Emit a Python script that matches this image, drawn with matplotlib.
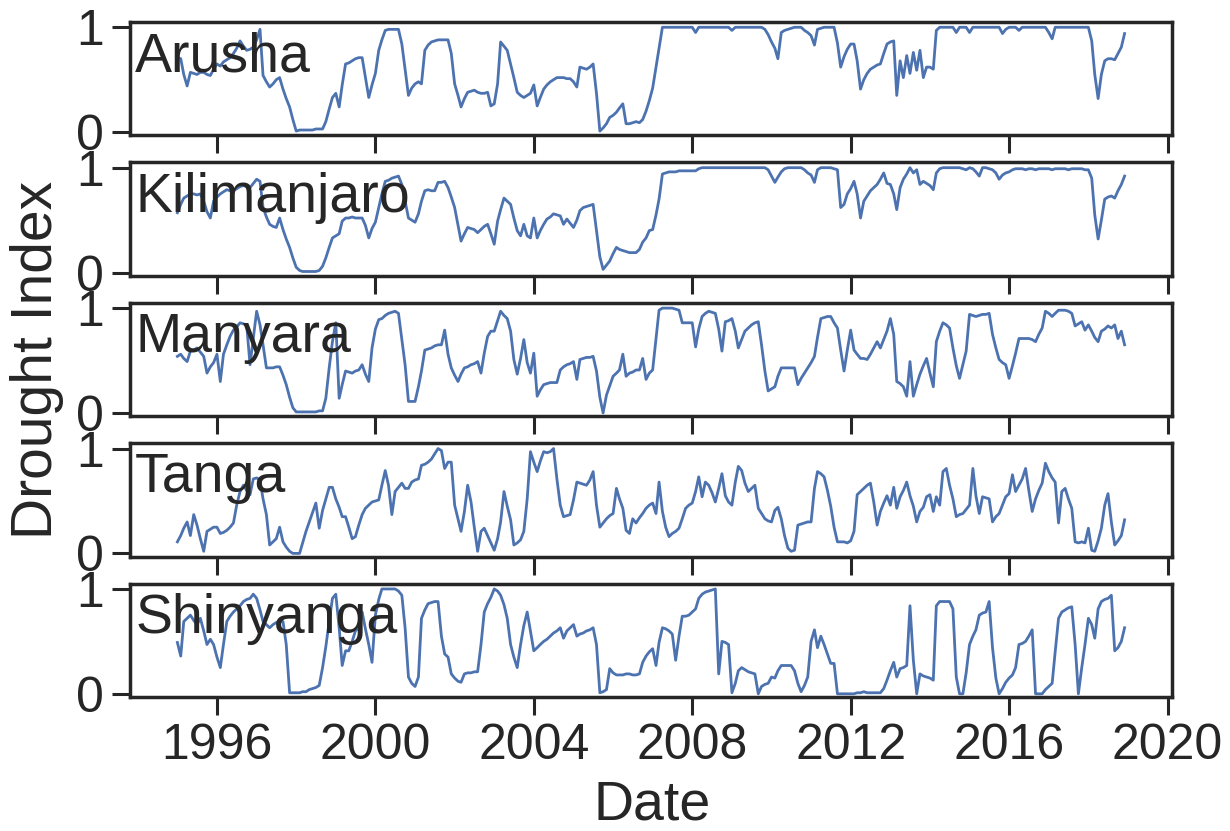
import pandas as pd
import matplotlib
matplotlib.use('Agg')
import matplotlib.pyplot as plt
import matplotlib.dates as mdates

plt.rcParams['font.family'] = ['Liberation Sans', 'DejaVu Sans']

# monthly values, Jan 1995 .. Dec 2018 (one row per year)
dates = pd.date_range('1995-01-01', '2018-12-01', freq='MS')
regions = ['Arusha', 'Kilimanjaro', 'Manyara', 'Tanga', 'Shinyanga']

arusha = [
    0.71, 0.70, 0.55, 0.44, 0.57, 0.56, 0.55, 0.57, 0.57, 0.55, 0.54, 0.60,
    0.65, 0.63, 0.67, 0.69, 0.71, 0.75, 0.80, 0.87, 0.82, 0.78, 0.79, 0.81,
    0.88, 0.98, 0.54, 0.48, 0.43, 0.46, 0.50, 0.52, 0.41, 0.32, 0.24, 0.12,
    0.01, 0.02, 0.02, 0.02, 0.02, 0.02, 0.03, 0.03, 0.03, 0.10, 0.22, 0.33,
    0.37, 0.24, 0.45, 0.65, 0.66, 0.68, 0.70, 0.71, 0.71, 0.52, 0.33, 0.45,
    0.56, 0.78, 0.88, 0.97, 0.98, 0.98, 0.98, 0.98, 0.84, 0.60, 0.35, 0.42,
    0.46, 0.48, 0.46, 0.78, 0.83, 0.86, 0.87, 0.88, 0.88, 0.88, 0.88, 0.75,
    0.46, 0.35, 0.24, 0.32, 0.38, 0.39, 0.40, 0.38, 0.37, 0.37, 0.38, 0.25,
    0.27, 0.46, 0.86, 0.82, 0.78, 0.65, 0.52, 0.38, 0.35, 0.33, 0.35, 0.37,
    0.45, 0.25, 0.33, 0.41, 0.45, 0.48, 0.50, 0.52, 0.52, 0.52, 0.51, 0.51,
    0.48, 0.43, 0.62, 0.61, 0.60, 0.62, 0.65, 0.37, 0.01, 0.04, 0.08, 0.14,
    0.16, 0.19, 0.23, 0.27, 0.08, 0.08, 0.09, 0.10, 0.09, 0.12, 0.20, 0.30,
    0.42, 0.62, 0.80, 1.00, 1.00, 1.00, 1.00, 1.00, 1.00, 1.00, 1.00, 1.00,
    1.00, 0.95, 1.00, 1.00, 1.00, 1.00, 1.00, 1.00, 1.00, 1.00, 1.00, 1.00,
    0.97, 1.00, 1.00, 1.00, 1.00, 1.00, 1.00, 1.00, 1.00, 1.00, 0.98, 0.93,
    0.86, 0.80, 0.70, 0.95, 0.97, 0.98, 0.99, 1.00, 1.00, 1.00, 0.97, 0.95,
    0.92, 0.83, 0.98, 0.99, 1.00, 1.00, 1.00, 1.00, 0.85, 0.62, 0.72, 0.79,
    0.84, 0.84, 0.68, 0.41, 0.50, 0.56, 0.60, 0.62, 0.64, 0.65, 0.75, 0.84,
    0.86, 0.87, 0.35, 0.68, 0.52, 0.73, 0.56, 0.76, 0.59, 0.78, 0.52, 0.62,
    0.62, 0.60, 0.97, 1.00, 1.00, 1.00, 1.00, 1.00, 0.95, 1.00, 1.00, 1.00,
    0.95, 1.00, 1.00, 1.00, 1.00, 1.00, 1.00, 1.00, 1.00, 1.00, 0.94, 0.98,
    1.00, 1.00, 1.00, 0.97, 1.00, 1.00, 1.00, 1.00, 1.00, 1.00, 1.00, 1.00,
    0.95, 0.89, 1.00, 1.00, 1.00, 1.00, 1.00, 1.00, 1.00, 1.00, 1.00, 1.00,
    1.00, 0.87, 0.55, 0.32, 0.55, 0.68, 0.70, 0.70, 0.69, 0.75, 0.81, 0.94,
]

kilimanjaro = [
    0.57, 0.65, 0.71, 0.73, 0.75, 0.75, 0.74, 0.75, 0.68, 0.58, 0.52, 0.68,
    0.72, 0.75, 0.77, 0.79, 0.78, 0.78, 0.80, 0.82, 0.83, 0.82, 0.81, 0.85,
    0.89, 0.87, 0.62, 0.53, 0.46, 0.44, 0.43, 0.52, 0.41, 0.32, 0.24, 0.14,
    0.05, 0.02, 0.01, 0.01, 0.01, 0.01, 0.01, 0.02, 0.06, 0.14, 0.24, 0.33,
    0.35, 0.37, 0.49, 0.52, 0.52, 0.53, 0.52, 0.52, 0.52, 0.45, 0.33, 0.42,
    0.48, 0.62, 0.75, 0.87, 0.88, 0.90, 0.91, 0.92, 0.84, 0.68, 0.52, 0.50,
    0.48, 0.56, 0.68, 0.78, 0.79, 0.78, 0.78, 0.86, 0.86, 0.87, 0.81, 0.72,
    0.62, 0.45, 0.30, 0.37, 0.43, 0.42, 0.41, 0.38, 0.41, 0.44, 0.46, 0.37,
    0.27, 0.49, 0.60, 0.71, 0.68, 0.65, 0.52, 0.40, 0.35, 0.46, 0.35, 0.33,
    0.52, 0.33, 0.40, 0.46, 0.51, 0.53, 0.56, 0.55, 0.54, 0.46, 0.51, 0.47,
    0.43, 0.50, 0.59, 0.62, 0.63, 0.64, 0.65, 0.40, 0.15, 0.03, 0.07, 0.11,
    0.18, 0.24, 0.22, 0.21, 0.20, 0.19, 0.19, 0.19, 0.22, 0.29, 0.33, 0.40,
    0.41, 0.55, 0.70, 0.94, 0.95, 0.96, 0.96, 0.96, 0.97, 0.97, 0.97, 0.97,
    0.97, 0.97, 0.99, 1.00, 1.00, 1.00, 1.00, 1.00, 1.00, 1.00, 1.00, 1.00,
    1.00, 1.00, 1.00, 1.00, 1.00, 1.00, 1.00, 1.00, 1.00, 1.00, 1.00, 0.98,
    0.92, 0.86, 0.91, 0.96, 0.99, 1.00, 1.00, 1.00, 1.00, 1.00, 0.98, 0.95,
    0.93, 0.86, 0.98, 1.00, 1.00, 1.00, 1.00, 0.99, 0.98, 0.62, 0.65, 0.75,
    0.80, 0.87, 0.75, 0.52, 0.68, 0.73, 0.78, 0.81, 0.84, 0.89, 0.95, 0.85,
    0.84, 0.75, 0.60, 0.81, 0.89, 0.94, 1.00, 0.95, 0.98, 0.84, 0.87, 0.85,
    0.83, 0.79, 0.95, 0.99, 1.00, 1.00, 1.00, 1.00, 1.00, 1.00, 0.99, 0.98,
    1.00, 0.99, 0.96, 0.92, 1.00, 1.00, 0.99, 0.98, 0.95, 0.89, 0.93, 0.95,
    0.96, 0.98, 0.99, 0.99, 0.99, 0.98, 0.99, 0.99, 0.98, 0.99, 0.99, 0.99,
    0.99, 0.98, 0.99, 0.99, 0.99, 0.99, 0.98, 0.99, 0.99, 0.99, 0.99, 0.98,
    0.98, 0.90, 0.55, 0.32, 0.50, 0.70, 0.72, 0.73, 0.71, 0.78, 0.84, 0.92,
]

manyara = [
    0.54, 0.56, 0.52, 0.49, 0.59, 0.60, 0.62, 0.58, 0.54, 0.38, 0.44, 0.48,
    0.56, 0.30, 0.56, 0.65, 0.73, 0.79, 0.82, 0.86, 0.85, 0.84, 0.46, 0.71,
    0.97, 0.84, 0.65, 0.43, 0.43, 0.43, 0.44, 0.44, 0.36, 0.27, 0.15, 0.05,
    0.01, 0.01, 0.01, 0.01, 0.01, 0.01, 0.01, 0.02, 0.02, 0.14, 0.43, 0.68,
    0.86, 0.14, 0.27, 0.40, 0.39, 0.38, 0.40, 0.41, 0.46, 0.37, 0.30, 0.62,
    0.80, 0.89, 0.90, 0.93, 0.95, 0.96, 0.97, 0.95, 0.70, 0.46, 0.11, 0.11,
    0.11, 0.25, 0.40, 0.60, 0.61, 0.62, 0.64, 0.65, 0.65, 0.79, 0.56, 0.43,
    0.36, 0.30, 0.37, 0.43, 0.44, 0.46, 0.47, 0.49, 0.38, 0.57, 0.73, 0.78,
    0.78, 0.88, 0.97, 0.93, 0.90, 0.78, 0.51, 0.37, 0.52, 0.70, 0.48, 0.38,
    0.57, 0.16, 0.22, 0.27, 0.28, 0.29, 0.29, 0.29, 0.41, 0.44, 0.46, 0.47,
    0.49, 0.32, 0.51, 0.52, 0.53, 0.53, 0.54, 0.40, 0.15, 0.00, 0.17, 0.26,
    0.35, 0.38, 0.41, 0.56, 0.35, 0.38, 0.39, 0.41, 0.41, 0.52, 0.32, 0.38,
    0.41, 0.71, 0.98, 1.00, 1.00, 1.00, 1.00, 0.99, 0.98, 0.86, 0.86, 0.86,
    0.86, 0.63, 0.80, 0.92, 0.95, 0.97, 0.96, 0.95, 0.80, 0.59, 0.87, 0.88,
    0.90, 0.78, 0.62, 0.70, 0.78, 0.81, 0.84, 0.86, 0.87, 0.65, 0.40, 0.21,
    0.23, 0.25, 0.35, 0.43, 0.43, 0.43, 0.43, 0.43, 0.27, 0.33, 0.38, 0.43,
    0.48, 0.54, 0.72, 0.90, 0.91, 0.92, 0.92, 0.86, 0.81, 0.60, 0.40, 0.60,
    0.79, 0.60, 0.56, 0.52, 0.52, 0.51, 0.56, 0.62, 0.68, 0.62, 0.70, 0.78,
    0.90, 0.75, 0.30, 0.28, 0.25, 0.16, 0.49, 0.16, 0.27, 0.37, 0.45, 0.52,
    0.38, 0.25, 0.68, 0.78, 0.86, 0.84, 0.81, 0.62, 0.45, 0.33, 0.46, 0.59,
    0.94, 0.93, 0.92, 0.93, 0.94, 0.94, 0.95, 0.75, 0.62, 0.51, 0.48, 0.46,
    0.33, 0.45, 0.57, 0.71, 0.71, 0.71, 0.71, 0.70, 0.68, 0.75, 0.81, 0.97,
    0.95, 0.92, 0.95, 0.98, 0.98, 0.98, 0.97, 0.95, 0.83, 0.85, 0.87, 0.79,
    0.84, 0.78, 0.72, 0.68, 0.78, 0.80, 0.83, 0.81, 0.84, 0.71, 0.78, 0.65,
]

tanga = [
    0.11, 0.17, 0.24, 0.30, 0.17, 0.37, 0.27, 0.14, 0.02, 0.21, 0.23, 0.25,
    0.25, 0.19, 0.20, 0.22, 0.25, 0.29, 0.46, 0.59, 0.65, 0.60, 0.56, 0.71,
    0.72, 0.70, 0.52, 0.37, 0.08, 0.11, 0.14, 0.25, 0.11, 0.06, 0.02, 0.00,
    0.00, 0.00, 0.10, 0.21, 0.30, 0.39, 0.48, 0.24, 0.41, 0.52, 0.63, 0.63,
    0.52, 0.44, 0.35, 0.35, 0.25, 0.14, 0.16, 0.27, 0.37, 0.43, 0.46, 0.49,
    0.50, 0.51, 0.65, 0.79, 0.65, 0.37, 0.59, 0.63, 0.67, 0.62, 0.62, 0.68,
    0.70, 0.71, 0.84, 0.85, 0.87, 0.90, 0.95, 1.00, 0.98, 0.81, 0.87, 0.87,
    0.46, 0.33, 0.21, 0.40, 0.65, 0.49, 0.25, 0.02, 0.21, 0.24, 0.17, 0.10,
    0.03, 0.14, 0.30, 0.59, 0.45, 0.32, 0.08, 0.10, 0.13, 0.21, 0.52, 0.97,
    0.87, 0.78, 0.88, 0.97, 0.96, 0.97, 1.00, 0.71, 0.46, 0.35, 0.36, 0.37,
    0.51, 0.68, 0.67, 0.66, 0.65, 0.70, 0.78, 0.46, 0.25, 0.29, 0.33, 0.36,
    0.38, 0.62, 0.52, 0.43, 0.22, 0.19, 0.33, 0.29, 0.34, 0.38, 0.43, 0.46,
    0.48, 0.38, 0.68, 0.40, 0.25, 0.16, 0.19, 0.21, 0.24, 0.33, 0.43, 0.46,
    0.48, 0.59, 0.73, 0.54, 0.68, 0.65, 0.58, 0.49, 0.62, 0.76, 0.55, 0.49,
    0.46, 0.68, 0.83, 0.79, 0.67, 0.59, 0.62, 0.65, 0.43, 0.38, 0.33, 0.31,
    0.30, 0.41, 0.44, 0.33, 0.17, 0.05, 0.02, 0.03, 0.27, 0.28, 0.29, 0.30,
    0.30, 0.62, 0.78, 0.76, 0.73, 0.60, 0.45, 0.25, 0.11, 0.11, 0.11, 0.10,
    0.12, 0.21, 0.56, 0.59, 0.62, 0.65, 0.67, 0.49, 0.27, 0.40, 0.48, 0.55,
    0.46, 0.63, 0.43, 0.54, 0.60, 0.68, 0.55, 0.45, 0.30, 0.40, 0.44, 0.54,
    0.56, 0.40, 0.54, 0.46, 0.78, 0.81, 0.65, 0.52, 0.35, 0.37, 0.38, 0.42,
    0.46, 0.81, 0.55, 0.38, 0.54, 0.53, 0.52, 0.30, 0.35, 0.38, 0.46, 0.54,
    0.57, 0.75, 0.59, 0.65, 0.71, 0.81, 0.60, 0.40, 0.52, 0.60, 0.67, 0.86,
    0.78, 0.72, 0.68, 0.29, 0.59, 0.62, 0.52, 0.43, 0.11, 0.10, 0.11, 0.10,
    0.24, 0.03, 0.02, 0.12, 0.24, 0.46, 0.57, 0.30, 0.08, 0.12, 0.17, 0.32,
]

shinyanga = [
    0.49, 0.36, 0.69, 0.72, 0.75, 0.70, 0.66, 0.72, 0.60, 0.47, 0.52, 0.47,
    0.35, 0.25, 0.47, 0.69, 0.74, 0.78, 0.81, 0.84, 0.88, 0.90, 0.91, 0.95,
    0.91, 0.80, 0.69, 0.66, 0.63, 0.66, 0.68, 0.69, 0.69, 0.47, 0.01, 0.01,
    0.01, 0.01, 0.02, 0.02, 0.04, 0.05, 0.06, 0.08, 0.25, 0.45, 0.69, 0.91,
    0.95, 0.63, 0.27, 0.41, 0.41, 0.50, 0.60, 0.63, 0.78, 0.62, 0.47, 0.30,
    0.75, 0.90, 1.00, 1.00, 1.00, 1.00, 1.00, 0.98, 0.94, 0.63, 0.16, 0.10,
    0.07, 0.16, 0.72, 0.80, 0.86, 0.87, 0.88, 0.88, 0.55, 0.38, 0.35, 0.19,
    0.15, 0.12, 0.11, 0.19, 0.20, 0.20, 0.21, 0.21, 0.47, 0.78, 0.86, 0.92,
    1.00, 0.98, 0.94, 0.85, 0.72, 0.47, 0.35, 0.25, 0.47, 0.65, 0.78, 0.60,
    0.41, 0.44, 0.47, 0.50, 0.52, 0.55, 0.58, 0.60, 0.63, 0.53, 0.60, 0.63,
    0.66, 0.55, 0.57, 0.58, 0.60, 0.61, 0.63, 0.47, 0.01, 0.02, 0.04, 0.24,
    0.20, 0.18, 0.18, 0.18, 0.19, 0.19, 0.18, 0.18, 0.19, 0.30, 0.36, 0.40,
    0.43, 0.27, 0.49, 0.63, 0.62, 0.60, 0.57, 0.32, 0.55, 0.74, 0.74, 0.75,
    0.78, 0.81, 0.91, 0.95, 0.97, 0.98, 0.99, 1.00, 0.19, 0.50, 0.49, 0.47,
    0.01, 0.10, 0.22, 0.25, 0.23, 0.21, 0.20, 0.19, 0.00, 0.07, 0.09, 0.10,
    0.16, 0.15, 0.22, 0.27, 0.27, 0.27, 0.27, 0.22, 0.10, 0.02, 0.08, 0.16,
    0.50, 0.61, 0.44, 0.55, 0.47, 0.38, 0.29, 0.29, 0.00, 0.00, 0.00, 0.00,
    0.00, 0.00, 0.01, 0.01, 0.02, 0.01, 0.01, 0.01, 0.01, 0.01, 0.05, 0.13,
    0.22, 0.30, 0.16, 0.24, 0.25, 0.27, 0.84, 0.32, 0.00, 0.19, 0.17, 0.16,
    0.15, 0.13, 0.84, 0.88, 0.88, 0.88, 0.88, 0.81, 0.16, 0.00, 0.00, 0.20,
    0.47, 0.55, 0.61, 0.75, 0.77, 0.78, 0.88, 0.44, 0.15, 0.00, 0.05, 0.11,
    0.15, 0.18, 0.25, 0.47, 0.48, 0.50, 0.55, 0.61, 0.00, 0.00, 0.00, 0.04,
    0.07, 0.10, 0.40, 0.72, 0.78, 0.80, 0.82, 0.83, 0.47, 0.00, 0.25, 0.47,
    0.72, 0.66, 0.53, 0.81, 0.88, 0.90, 0.91, 0.94, 0.41, 0.44, 0.50, 0.63,
]

series = [arusha, kilimanjaro, manyara, tanga, shinyanga]
ink = '#262626'

fig, axes = plt.subplots(5, 1, sharex=True, figsize=(12.3, 8.31), dpi=100)
fig.subplots_adjust(left=0.1057, right=0.9528, top=0.9735, bottom=0.1613, hspace=0.24)

for ax, name, vals in zip(axes, regions, series):
    ax.plot(dates, vals, color='#4c72b0', lw=2)
    ax.set_ylim(-0.03, 1.05)
    ax.set_yticks([0, 1])
    ax.text(0.005, 0.92, name, transform=ax.transAxes, ha='left', va='top',
            fontsize=40, color=ink)
    for sp in ax.spines.values():
        sp.set_linewidth(2.5)
        sp.set_color(ink)
    ax.tick_params(length=13, width=2.2, labelsize=36, pad=6, colors=ink)

axes[-1].xaxis.set_major_locator(mdates.YearLocator(4))
axes[-1].xaxis.set_major_formatter(mdates.DateFormatter('%Y'))

fig.text(0.53, 0.031, 'Date', ha='center', va='center', fontsize=40, color=ink)
fig.text(0.030, 0.567, 'Drought Index', ha='center', va='center', rotation=90,
         fontsize=41, color=ink)

fig.savefig('out.png', dpi=100)
